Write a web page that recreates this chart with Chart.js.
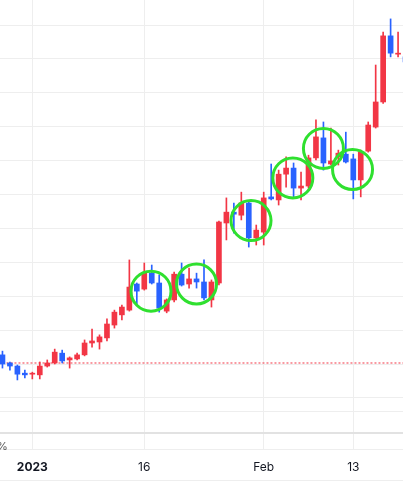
<!DOCTYPE html>
<html>
<head>
<meta charset="utf-8">
<script src="https://cdn.jsdelivr.net/npm/chart.js@4.4.0/dist/chart.umd.min.js"></script>
<style>
  html, body { margin: 0; padding: 0; background: #fff; }
  #wrap { width: 403px; height: 482px; }
</style>
</head>
<body>
<div id="wrap"><canvas id="chart"></canvas></div>
<script>
// days counted from Jan 1 2023
const days = [-4, -3, -2, -1, 0, 1, 2, 3, 4, 5, 6, 7, 8, 9, 10, 11, 12, 13, 14, 15, 16, 17, 18, 19, 20,
  21, 22, 23, 24, 25, 26, 27, 28, 29, 30, 31, 32, 33, 34, 35, 36, 37, 38, 39, 40, 41, 42, 43, 44, 45,
  46, 47, 48, 49, 50];
const opens = [112.7, 110.3, 109.4, 107.3, 107.0, 106.8, 109.4, 110.3, 113.2, 111.2, 111.5, 112.7, 116.2,
  116.5, 117.7, 121.5, 124.5, 125.9, 133.6, 132.1, 136.8, 133.9, 125.6, 128.9, 136.5, 133.6, 135.1, 134.2,
  128.9, 133.9, 151.6, 154.8, 153.9, 157.5, 147.2, 148.9, 159.3, 158.4, 166.0, 167.8, 161.9, 162.5, 170.8,
  176.7, 169.0, 171.1, 171.9, 170.5, 164.3, 172.8, 179.9, 187.3, 206.8, 201.4, 200.6];
const highs = [113.8, 110.6, 109.7, 108.2, 107.6, 110.6, 111.2, 114.4, 114.1, 112.1, 113.2, 117.1, 120.3,
  118.6, 123.3, 125.9, 127.4, 140.7, 133.9, 139.8, 139.2, 136.3, 129.2, 137.1, 139.8, 138.3, 136.8, 140.7,
  134.8, 152.2, 159.0, 157.5, 160.7, 157.8, 151.0, 160.7, 169.0, 167.2, 171.1, 169.3, 166.6, 171.6, 182.0,
  181.4, 179.6, 173.1, 178.4, 171.9, 173.1, 181.4, 198.2, 207.9, 211.8, 207.9, 201.1];
const lows = [108.8, 108.2, 105.3, 105.9, 105.6, 105.6, 109.1, 110.0, 110.3, 108.8, 111.2, 112.4, 115.0,
  114.4, 116.8, 120.6, 123.0, 125.6, 127.4, 131.8, 133.6, 125.3, 125.1, 128.3, 133.0, 132.4, 132.4, 128.9,
  126.8, 133.3, 146.6, 148.6, 152.5, 144.5, 145.1, 145.1, 158.4, 156.9, 162.2, 159.3, 158.4, 161.9, 170.2,
  167.2, 168.7, 168.7, 169.3, 158.7, 159.3, 172.5, 179.6, 186.9, 200.6, 200.6, 198.2];
const closes = [110.0, 109.4, 107.0, 106.8, 107.3, 109.4, 110.3, 113.5, 110.9, 111.8, 112.7, 116.2, 116.8,
  118.0, 121.8, 125.3, 126.8, 132.7, 131.5, 136.8, 133.9, 126.5, 128.9, 136.5, 133.3, 135.1, 134.2, 129.5,
  134.2, 151.9, 154.8, 154.2, 157.5, 147.2, 149.5, 159.0, 158.7, 166.0, 167.8, 161.9, 162.5, 170.8, 177.0,
  169.3, 169.9, 172.2, 169.6, 164.3, 172.5, 180.5, 187.3, 206.8, 201.7, 201.7, 199.1];

const tickDays = [0, 15, 31, 43];
const tickLabels = ['2023', '16', 'Feb', '13'];
const gridValues = [100, 110, 120, 130, 140, 150, 160, 170, 180, 190, 200, 210];

const refLine = 110.3;

// highlighted groups
const circleX = [15.9, 22.0, 29.3, 34.9, 39.0, 42.9];
const circleY = [131.5, 133.6, 152.3, 164.9, 173.6, 167.4];

const upColor = '#f23645';
const downColor = '#2962ff';
const gridColor = '#eeeeee';
const candleColors = days.map((d, i) => closes[i] >= opens[i] ? upColor : downColor);

const paneLines = {
  id: 'paneLines',
  beforeDatasetsDraw(chart) {
    const { ctx, chartArea } = chart;
    const b = chartArea.bottom;
    ctx.save();
    ctx.strokeStyle = gridColor;
    ctx.lineWidth = 1;
    [b - 37.5, chart.height - 1.5].forEach(y => {
      ctx.beginPath();
      ctx.moveTo(0, y);
      ctx.lineTo(chart.width, y);
      ctx.stroke();
    });
    ctx.strokeStyle = '#e2e2e2';
    ctx.lineWidth = 2;
    ctx.beginPath();
    ctx.moveTo(0, b - 16);
    ctx.lineTo(chart.width, b - 16);
    ctx.stroke();
    ctx.fillStyle = '#555';
    ctx.font = '11px Inter';
    ctx.textBaseline = 'middle';
    ctx.fillText('%', -3, b - 2);
    ctx.restore();
  }
};

new Chart(document.getElementById('chart'), {
  type: 'bar',
  data: {
    labels: days,
    datasets: [
      {
        type: 'bubble',
        data: circleX.map((x, i) => ({ x: x, y: circleY[i], r: 20 })),
        backgroundColor: 'rgba(0,0,0,0)',
        borderColor: '#2fe02f',
        borderWidth: 3
      },
      {
        data: opens.map((o, i) => [o, closes[i]]),
        backgroundColor: candleColors,
        barThickness: 5,
        minBarLength: 1,
        grouped: false
      },
      {
        data: lows.map((l, i) => [l, highs[i]]),
        backgroundColor: candleColors,
        barThickness: 1,
        grouped: false
      },
      {
        type: 'line',
        data: [{ x: days[0], y: refLine }, { x: days[days.length - 1], y: refLine }],
        borderColor: upColor,
        borderWidth: 1,
        borderDash: [2, 2],
        pointRadius: 0
      }
    ]
  },
  options: {
    responsive: true,
    maintainAspectRatio: false,
    animation: false,
    events: [],
    layout: { padding: 0, autoPadding: false },
    plugins: {
      legend: { display: false },
      tooltip: { enabled: false }
    },
    scales: {
      x: {
        type: 'linear',
        min: -4.33,
        max: 49.66,
        offset: false,
        grid: { color: gridColor, drawTicks: false, offset: false },
        border: { color: gridColor },
        afterBuildTicks: (s) => { s.ticks = tickDays.map(v => ({ value: v })); },
        afterFit: (s) => { s.height = 33; },
        ticks: {
          padding: 11,
          color: '#131722',
          autoSkip: false,
          maxRotation: 0,
          callback: (v, i) => tickLabels[i],
          font: (c) => ({ family: 'Inter', size: 12, weight: c.index === 0 ? 'bold' : 'normal' })
        }
      },
      y: {
        position: 'right',
        min: 84.93,
        max: 217.38,
        grid: { color: gridColor, drawTicks: false },
        border: { display: false },
        ticks: { display: false },
        afterBuildTicks: (s) => { s.ticks = gridValues.map(v => ({ value: v })); },
        afterFit: (s) => { s.width = 0; }
      }
    }
  },
  plugins: [paneLines]
});
</script>
</body>
</html>
